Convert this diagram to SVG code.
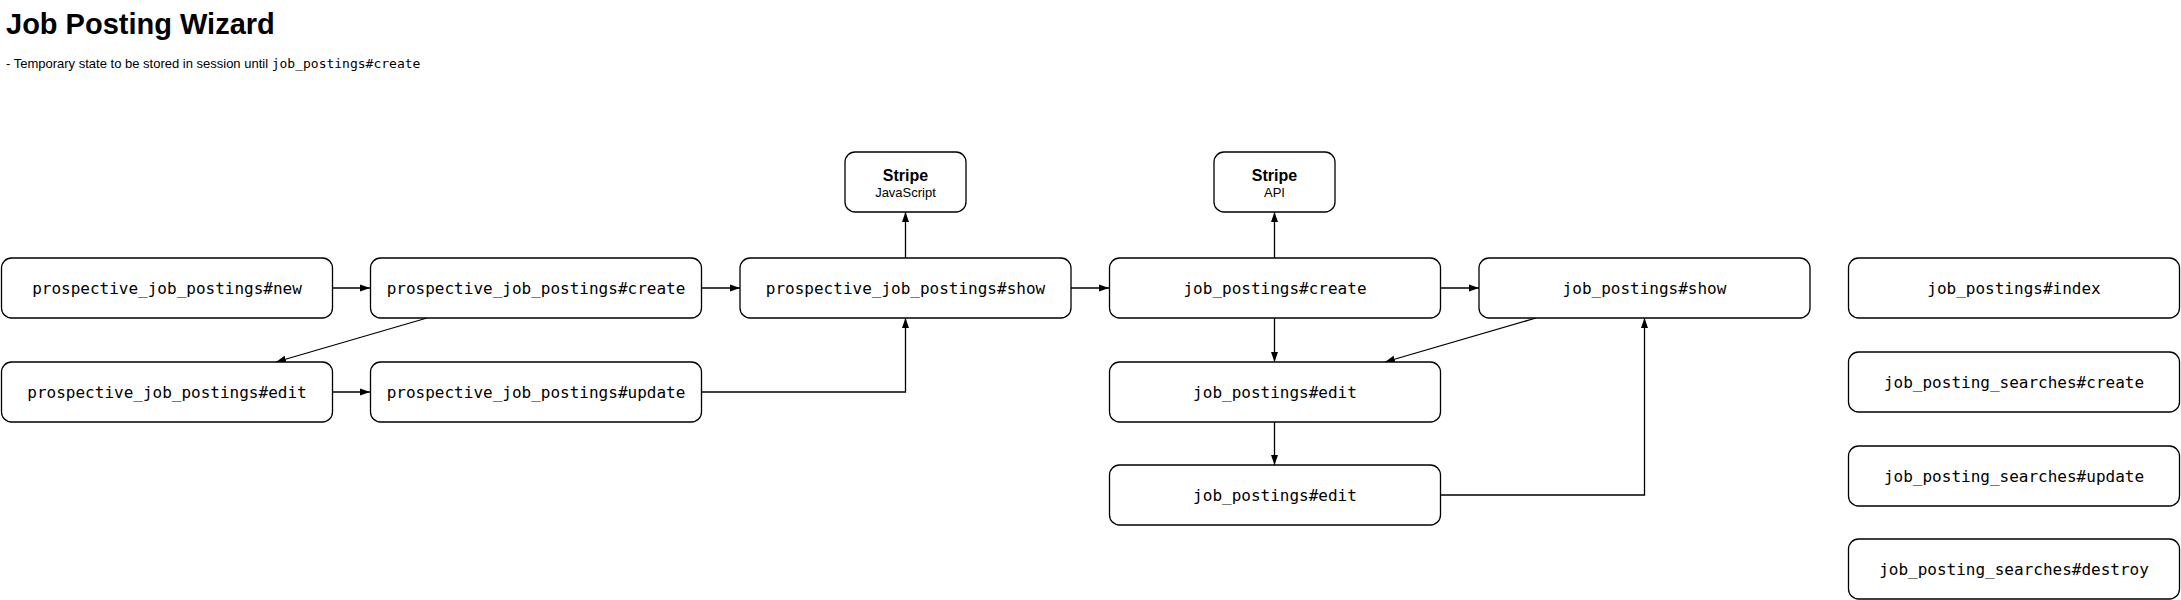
<svg xmlns="http://www.w3.org/2000/svg" width="2181" height="600" viewBox="0 0 2181 600">
<style>
.box{fill:#fff;stroke:#000;stroke-width:1.3}
.lbl{font-family:"DejaVu Sans Mono","Liberation Mono",monospace;font-size:16px;fill:#000;text-anchor:middle}
.st{font-family:"Liberation Sans",Arial,sans-serif;fill:#000;text-anchor:middle}
.edge{fill:none;stroke:#000;stroke-width:1.3;marker-end:url(#arr)}
</style>
<defs>
<marker id="arr" markerUnits="userSpaceOnUse" markerWidth="10" markerHeight="8" refX="10" refY="4" orient="auto">
<path d="M0,0.5 L10,4 L0,7.5 z" fill="#000"/>
</marker>
</defs>
<rect width="2181" height="600" fill="#fff"/>
<text x="6" y="34" font-family="Liberation Sans,Arial,sans-serif" font-weight="bold" font-size="29">Job Posting Wizard</text>
<text x="6" y="68" font-family="Liberation Sans,Arial,sans-serif" font-size="13">- Temporary state to be stored in session until <tspan font-family="DejaVu Sans Mono,monospace">job_postings#create</tspan></text>

<g id="connectors">
<path class="edge" d="M332,288 L370,288"/>
<path class="edge" d="M701,288 L740,288"/>
<path class="edge" d="M1071,288 L1109,288"/>
<path class="edge" d="M1440,288 L1479,288"/>
<path class="edge" d="M427,318 L276,362"/>
<path class="edge" d="M332,392 L370,392"/>
<path class="edge" d="M701,392 L905.5,392 L905.5,318"/>
<path class="edge" d="M905.5,258 L905.5,212"/>
<path class="edge" d="M1274.5,258 L1274.5,212"/>
<path class="edge" d="M1274.5,318 L1274.5,362"/>
<path class="edge" d="M1536,318 L1385,362"/>
<path class="edge" d="M1274.5,422 L1274.5,465"/>
<path class="edge" d="M1440,495 L1644.5,495 L1644.5,318"/>
</g>

<g id="n-pjp-new"><rect class="box" x="1.5" y="258" width="331" height="60" rx="10"/><text class="lbl" x="167" y="293.5">prospective_job_postings#new</text></g>
<g id="n-pjp-create"><rect class="box" x="370.5" y="258" width="331" height="60" rx="10"/><text class="lbl" x="536" y="293.5">prospective_job_postings#create</text></g>
<g id="n-pjp-show"><rect class="box" x="740" y="258" width="331" height="60" rx="10"/><text class="lbl" x="905.5" y="293.5">prospective_job_postings#show</text></g>
<g id="n-jp-create"><rect class="box" x="1109.5" y="258" width="331" height="60" rx="10"/><text class="lbl" x="1275" y="293.5">job_postings#create</text></g>
<g id="n-jp-show"><rect class="box" x="1479" y="258" width="331" height="60" rx="10"/><text class="lbl" x="1644.5" y="293.5">job_postings#show</text></g>
<g id="n-jp-index"><rect class="box" x="1848.5" y="258" width="331" height="60" rx="10"/><text class="lbl" x="2014" y="293.5">job_postings#index</text></g>

<g id="n-pjp-edit"><rect class="box" x="1.5" y="362" width="331" height="60" rx="10"/><text class="lbl" x="167" y="397.5">prospective_job_postings#edit</text></g>
<g id="n-pjp-update"><rect class="box" x="370.5" y="362" width="331" height="60" rx="10"/><text class="lbl" x="536" y="397.5">prospective_job_postings#update</text></g>
<g id="n-jp-edit"><rect class="box" x="1109.5" y="362" width="331" height="60" rx="10"/><text class="lbl" x="1275" y="397.5">job_postings#edit</text></g>
<g id="n-jp-edit2"><rect class="box" x="1109.5" y="465" width="331" height="60" rx="10"/><text class="lbl" x="1275" y="500.5">job_postings#edit</text></g>

<g id="n-jps-create"><rect class="box" x="1848.5" y="352" width="331" height="60" rx="10"/><text class="lbl" x="2014" y="387.5">job_posting_searches#create</text></g>
<g id="n-jps-update"><rect class="box" x="1848.5" y="446" width="331" height="60" rx="10"/><text class="lbl" x="2014" y="481.5">job_posting_searches#update</text></g>
<g id="n-jps-destroy"><rect class="box" x="1848.5" y="539" width="331" height="60" rx="10"/><text class="lbl" x="2014" y="574.5">job_posting_searches#destroy</text></g>

<g id="n-stripe-js"><rect class="box" x="845" y="152" width="121" height="60" rx="10"/><text class="st" x="905.5" y="181" font-size="16" font-weight="bold">Stripe</text><text class="st" x="905.5" y="197" font-size="13">JavaScript</text></g>
<g id="n-stripe-api"><rect class="box" x="1214" y="152" width="121" height="60" rx="10"/><text class="st" x="1274.5" y="181" font-size="16" font-weight="bold">Stripe</text><text class="st" x="1274.5" y="197" font-size="13">API</text></g>
</svg>
